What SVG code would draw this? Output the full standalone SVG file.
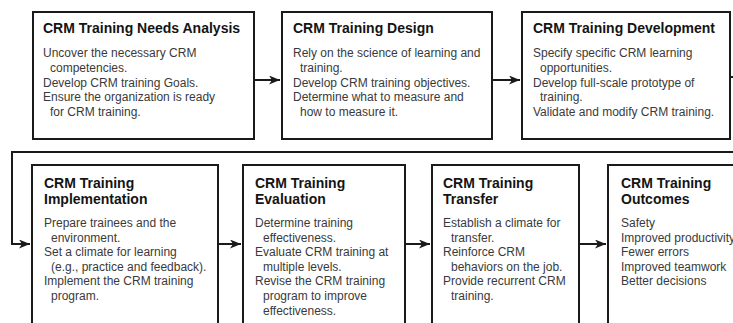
<svg xmlns="http://www.w3.org/2000/svg" width="733" height="323" viewBox="0 0 733 323">
<style>
.box{fill:#fff;stroke:#1a1a1a;stroke-width:2}
.t{font-family:"Liberation Sans",Arial,sans-serif;font-size:14px;font-weight:bold;fill:#141414}
.b{font-family:"Liberation Sans",Arial,sans-serif;font-size:12px;fill:#3a3a3a}
.c{fill:none;stroke:#1a1a1a;stroke-width:2}
</style>
<defs>
<marker id="ah" markerUnits="userSpaceOnUse" markerWidth="12" markerHeight="10" refX="11" refY="4.5" orient="auto">
<path d="M0,0 L11,4.5 L0,9 L3,4.5 z" fill="#1a1a1a"/>
</marker>
</defs>
<rect width="733" height="323" fill="#fff"/>
<g id="connectors">
<path class="c" d="M254,80 H280" marker-end="url(#ah)"/>
<path class="c" d="M492,80 H520" marker-end="url(#ah)"/>
<path class="c" d="M730,77 H745 V152 H12 V244 H30" marker-end="url(#ah)"/>
<path class="c" d="M218,244 H241" marker-end="url(#ah)"/>
<path class="c" d="M405,244 H430" marker-end="url(#ah)"/>
<path class="c" d="M579,244 H606" marker-end="url(#ah)"/>
</g>
<g id="n1">
<rect class="box" x="33" y="12" width="221" height="127"/>
<text class="t" x="43" y="33">CRM Training Needs Analysis</text>
<text class="b" x="43" y="57">Uncover the necessary CRM</text>
<text class="b" x="50" y="72">competencies.</text>
<text class="b" x="43" y="86.5">Develop CRM training Goals.</text>
<text class="b" x="43" y="101">Ensure the organization is ready</text>
<text class="b" x="50" y="116">for CRM training.</text>
</g>
<g id="n2">
<rect class="box" x="282" y="12" width="210" height="127"/>
<text class="t" x="293" y="33">CRM Training Design</text>
<text class="b" x="293" y="57">Rely on the science of learning and</text>
<text class="b" x="300" y="72">training.</text>
<text class="b" x="293" y="86.5">Develop CRM training objectives.</text>
<text class="b" x="293" y="101">Determine what to measure and</text>
<text class="b" x="300" y="116">how to measure it.</text>
</g>
<g id="n3">
<rect class="box" x="522" y="12" width="208" height="127"/>
<text class="t" x="533" y="33">CRM Training Development</text>
<text class="b" x="533" y="57">Specify specific CRM learning</text>
<text class="b" x="540" y="72">opportunities.</text>
<text class="b" x="533" y="86.5">Develop full-scale prototype of</text>
<text class="b" x="540" y="101">training.</text>
<text class="b" x="533" y="116">Validate and modify CRM training.</text>
</g>
<g id="n4">
<rect class="box" x="32" y="165" width="186" height="170"/>
<text class="t" x="44" y="188">CRM Training</text>
<text class="t" x="44" y="204">Implementation</text>
<text class="b" x="44" y="227">Prepare trainees and the</text>
<text class="b" x="51" y="241.6">environment.</text>
<text class="b" x="44" y="256.2">Set a climate for learning</text>
<text class="b" x="51" y="270.8">(e.g., practice and feedback).</text>
<text class="b" x="44" y="285.4">Implement the CRM training</text>
<text class="b" x="51" y="300">program.</text>
</g>
<g id="n5">
<rect class="box" x="243" y="165" width="162" height="170"/>
<text class="t" x="255" y="188">CRM Training</text>
<text class="t" x="255" y="204">Evaluation</text>
<text class="b" x="255" y="227">Determine training</text>
<text class="b" x="263" y="241.6">effectiveness.</text>
<text class="b" x="255" y="256.2">Evaluate CRM training at</text>
<text class="b" x="263" y="270.8">multiple levels.</text>
<text class="b" x="255" y="285.4">Revise the CRM training</text>
<text class="b" x="263" y="300">program to improve</text>
<text class="b" x="263" y="314.6">effectiveness.</text>
</g>
<g id="n6">
<rect class="box" x="432" y="165" width="147" height="170"/>
<text class="t" x="443" y="188">CRM Training</text>
<text class="t" x="443" y="204">Transfer</text>
<text class="b" x="443" y="227">Establish a climate for</text>
<text class="b" x="451" y="241.6">transfer.</text>
<text class="b" x="443" y="256.2">Reinforce CRM</text>
<text class="b" x="451" y="270.8">behaviors on the job.</text>
<text class="b" x="443" y="285.4">Provide recurrent CRM</text>
<text class="b" x="451" y="300">training.</text>
</g>
<g id="n7">
<rect class="box" x="608" y="165" width="140" height="170"/>
<text class="t" x="621" y="188">CRM Training</text>
<text class="t" x="621" y="204">Outcomes</text>
<text class="b" x="621" y="227">Safety</text>
<text class="b" x="621" y="241.6">Improved productivity</text>
<text class="b" x="621" y="256.2">Fewer errors</text>
<text class="b" x="621" y="270.8">Improved teamwork</text>
<text class="b" x="621" y="285.4">Better decisions</text>
</g>
</svg>
